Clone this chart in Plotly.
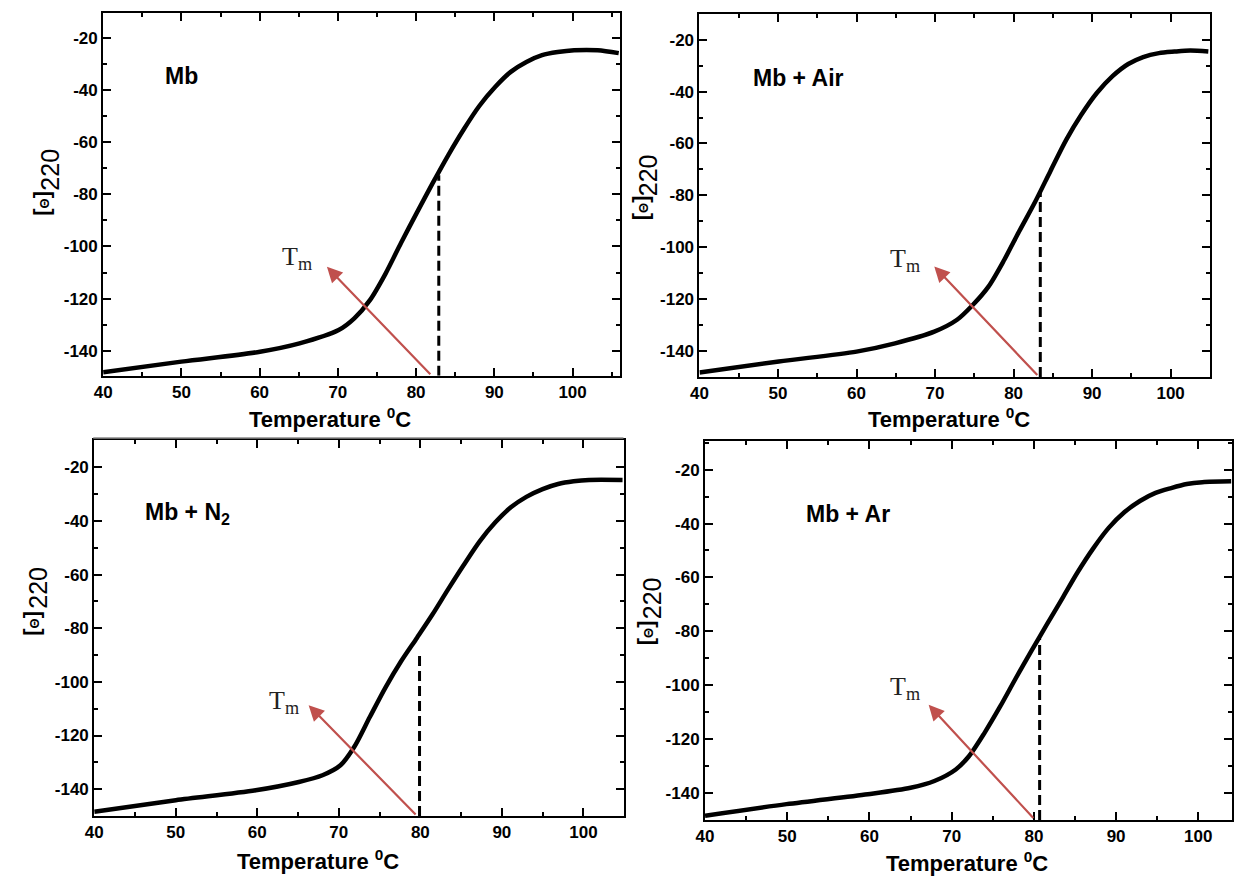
import plotly.graph_objects as go

# ---------------- data ----------------
temp_mb = [40, 50, 60.05, 65.1, 70.1, 72.1, 74.1, 76.1, 78.1, 80.1, 82.1, 84.1, 86.1, 88.1, 90.1, 92.1, 94.1, 96.1, 98.1, 100.2, 103.2, 105.9]
theta_mb = [-148.3, -144.2, -140.4, -137.2, -132.1, -127.6, -120.6, -110.4, -98.5, -87.0, -75.8, -65.0, -55.0, -46.0, -38.8, -33.0, -29.2, -26.6, -25.4, -24.7, -24.7, -25.8]

temp_air = [40, 50.1, 60.0, 64.9, 69.9, 72.8, 74.8, 76.8, 78.8, 80.7, 82.7, 84.7, 86.7, 88.6, 90.6, 92.6, 94.6, 96.5, 98.5, 100.5, 102.5, 104.8]
theta_air = [-148.5, -144.2, -140.4, -137.2, -132.7, -128.1, -122.4, -115.3, -105.0, -94.0, -82.8, -70.6, -58.6, -49.0, -40.5, -34.0, -29.3, -26.6, -25.1, -24.5, -24.1, -24.5]

temp_n2 = [40, 50.0, 59.8, 65.1, 68.0, 70.2, 71.9, 73.8, 75.7, 77.6, 79.6, 81.5, 83.4, 85.3, 87.3, 89.2, 91.1, 93.0, 95.0, 96.9, 98.8, 100.7, 104.8]
theta_n2 = [-148.4, -144.1, -140.4, -137.3, -134.8, -131.1, -124.2, -113.1, -102.2, -92.5, -83.5, -74.8, -65.5, -56.5, -47.5, -40.5, -34.9, -31.0, -28.1, -26.2, -25.2, -24.7, -24.7]

temp_ar = [40, 49.9, 59.8, 65.0, 67.9, 70.5, 72.1, 74.0, 75.9, 77.8, 79.7, 81.6, 83.5, 85.3, 87.2, 89.1, 91.0, 92.9, 94.8, 96.7, 98.6, 100.5, 104.0]
theta_ar = [-148.6, -144.3, -140.6, -138.2, -135.7, -131.4, -126.5, -117.8, -108.0, -97.5, -87.3, -77.4, -67.6, -58.2, -49.3, -41.6, -35.8, -31.6, -28.6, -26.8, -25.3, -24.6, -24.3]

panel_labels = ["Mb", "Mb + Air", "Mb + N<sub>2</sub>", "Mb + Ar"]
tm_values = [82.9, 83.4, 79.9, 80.7]          # dashed marker positions
tm_line_tops = [-72.7, -78.6, -88.9, -82.8]
x_tick_vals = [40, 50, 60, 70, 80, 90, 100]
x_tick_text = ["40", "50", "60", "70", "80", "90", "100"]
y_tick_vals = [-20, -40, -60, -80, -100, -120, -140]
y_tick_text = ["-20", "-40", "-60", "-80", "-100", "-120", "-140"]

# ---------------- layout helpers ----------------
W, H = 1234, 877
# plot-area pixel boxes: (left, right, top, bottom)
boxes = [(95, 616, 13, 375.7), (696.7, 1211.7, 14.3, 377), (86, 620.7, 440, 816), (702.3, 1234, 441, 820)]
xranges = [[40, 106], [40, 105], [40, 105], [40, 104.1]]
yranges = [[-149.6, -10.4], [-150.2, -10.1], [-150, -9.8], [-150.2, -9.3]]
label_pos = [(47.6, -34.6), (46.6, -34.6), (46.0, -37.3), (52.0, -36.6)]
tm_text_pos = [(64.8, -104.6), (66.2, -105.0), (63.3, -107.5), (64.3, -101.2)]
arrow_base = [(82.0, -149.6), (83.2, -150), (79.6, -150), (80.1, -150)]
arrow_tip = [(68.6, -107.8), (69.9, -107.5), (66.3, -108.7), (67.2, -107.4)]
xtitle_pos = [(324, 418), (948, 418), (312, 860), (967, 862)]
bracket_pos = [(33, 203), (638, 208), (22, 623), (642, 633)]
sub_pos = [(41, 170), (645, 175), (29, 588), (649, 598)]

curves = [(temp_mb, theta_mb), (temp_air, theta_air), (temp_n2, theta_n2), (temp_ar, theta_ar)]

FONT = "Liberation Sans, Arial"

fig = go.Figure()
layout = dict(width=W, height=H, margin=dict(l=0, r=0, t=0, b=0),
              font=dict(family=FONT, size=17, color="black"),
              paper_bgcolor="white", plot_bgcolor="white", showlegend=False)
annotations = []
shapes = []

for i in range(4):
    n = "" if i == 0 else str(i + 1)
    xa, ya = "x" + n, "y" + n
    l, r, t, b = boxes[i]
    layout["xaxis" + n] = dict(domain=[l / W, min(r / W, 1.0)], range=xranges[i],
                               tickmode="array", tickvals=x_tick_vals,
                               ticktext=["<b>" + s + "</b>" for s in x_tick_text], anchor=ya,
                               minor=dict(ticks="inside", ticklen=4, tickwidth=1.5, dtick=5, tick0=40, tickcolor="black"))
    layout["yaxis" + n] = dict(domain=[1 - b / H, 1 - t / H], range=yranges[i],
                               tickmode="array", tickvals=y_tick_vals,
                               ticktext=["<b>" + s + "</b>" for s in y_tick_text], anchor=xa,
                               minor=dict(ticks="inside", ticklen=4, tickwidth=1.5, dtick=10, tick0=-20, tickcolor="black"))

    xs, ys = curves[i]
    fig.add_trace(go.Scatter(x=xs, y=ys, mode="lines", xaxis=xa, yaxis=ya,
                             line=dict(color="black", width=4.5, shape="spline", smoothing=0.8)))
    fig.add_trace(go.Scatter(x=[tm_values[i], tm_values[i]], y=[yranges[i][0], tm_line_tops[i]],
                             mode="lines", xaxis=xa, yaxis=ya,
                             line=dict(color="black", width=3, dash="10px,5px")))

    annotations.append(dict(x=label_pos[i][0], y=label_pos[i][1], xref=xa, yref=ya,
                            text="<b>" + panel_labels[i] + "</b>", showarrow=False,
                            xanchor="left", yanchor="middle",
                            font=dict(family=FONT, size=23, color="black")))
    annotations.append(dict(x=tm_text_pos[i][0], y=tm_text_pos[i][1], xref=xa, yref=ya,
                            text="T<sub>m</sub>", showarrow=False, xanchor="center", yanchor="middle",
                            font=dict(family="Liberation Serif, Times New Roman", size=26, color="#222222")))
    annotations.append(dict(x=arrow_tip[i][0], y=arrow_tip[i][1], xref=xa, yref=ya,
                            ax=arrow_base[i][0], ay=arrow_base[i][1], axref=xa, ayref=ya,
                            text="", showarrow=True, arrowhead=2, arrowsize=1.4, arrowwidth=2.2,
                            arrowcolor="#c0504d"))
    annotations.append(dict(x=xtitle_pos[i][0] / W, y=1 - xtitle_pos[i][1] / H, xref="paper", yref="paper",
                            text="<b>Temperature <sup>0</sup>C</b>", showarrow=False,
                            xanchor="center", yanchor="middle",
                            font=dict(family=FONT, size=22, color="black")))
    annotations.append(dict(x=bracket_pos[i][0] / W, y=1 - bracket_pos[i][1] / H, xref="paper", yref="paper",
                            text="<b>[<span style='font-size:13px'>Θ</span>]</b>",
                            showarrow=False, textangle=-90, xanchor="center", yanchor="middle",
                            font=dict(family=FONT, size=22, color="black")))
    annotations.append(dict(x=sub_pos[i][0] / W, y=1 - sub_pos[i][1] / H, xref="paper", yref="paper",
                            text="220",
                            showarrow=False, textangle=-90, xanchor="center", yanchor="middle",
                            font=dict(family=FONT, size=25, color="black")))

shapes.append(dict(type="line", xref="paper", yref="paper", x0=85 / W, x1=620 / W,
                   y0=1 - 438 / H, y1=1 - 438 / H, line=dict(color="#8a8a8a", width=1.5)))

layout["annotations"] = annotations
layout["shapes"] = shapes
fig.update_layout(**layout)
axis_style = dict(showline=True, linewidth=2, linecolor="black", mirror="allticks",
                  ticks="inside", ticklen=8, tickwidth=2, tickcolor="black",
                  showgrid=False, zeroline=False,
                  tickfont=dict(family=FONT, size=17, color="black"))
fig.update_xaxes(**axis_style)
fig.update_yaxes(**axis_style)
fig.write_html("out.html")
